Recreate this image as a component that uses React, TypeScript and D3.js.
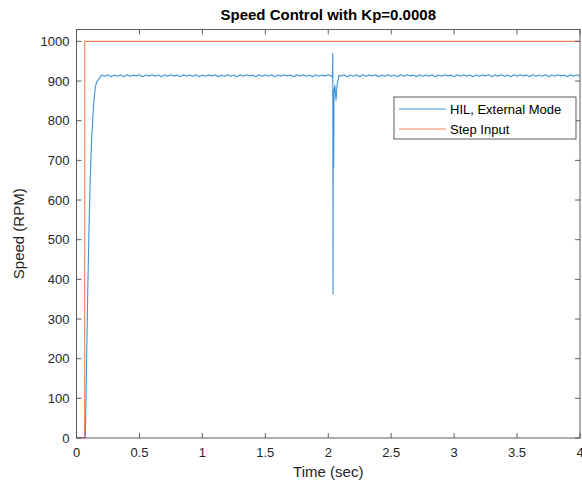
import React from "react";
import * as d3 from "d3";

const xTicks = [0, 0.5, 1, 1.5, 2, 2.5, 3, 3.5, 4];
const yTicks = [0, 100, 200, 300, 400, 500, 600, 700, 800, 900, 1000];

const stepT = [0, 0.065, 0.065, 4.0];
const stepV = [0, 0, 1000, 1000];

const riseT = [0, 0.07, 0.08, 0.09, 0.1, 0.11, 0.12, 0.13, 0.14, 0.15, 0.16, 0.18, 0.2];
const riseV = [0, 0, 190, 380, 540, 660, 750, 810, 855, 885, 898, 906, 915];

const rippleDt = 0.025;
const ripple1Start = 0.225;
const ripple1V = [912, 916, 911, 915, 912, 915, 911, 916, 912, 915, 913, 916, 911, 915, 912, 916, 912, 915, 911, 916, 912, 916, 913, 915, 911, 916, 912, 915, 912, 916, 911, 915, 912, 915, 913, 916, 911, 915, 912, 916, 912, 915, 911, 916, 912, 916, 913, 915, 911, 916, 912, 915, 912, 916, 911, 915, 912, 916, 913, 915, 911, 916, 912, 916, 912, 915, 911, 916, 912, 915, 913, 916];

const distT = [2.028, 2.033, 2.036, 2.038, 2.040, 2.043, 2.046, 2.052, 2.062, 2.070, 2.085];
const distV = [912, 908, 970, 363, 880, 683, 870, 890, 852, 890, 915];

const ripple2Start = 2.1;
const ripple2V = [912, 916, 911, 915, 912, 916, 911, 916, 912, 915, 913, 916, 911, 915, 912, 916, 912, 915, 911, 916, 912, 916, 913, 915, 911, 916, 912, 915, 912, 916, 911, 915, 912, 916, 913, 915, 911, 916, 912, 916, 912, 915, 911, 916, 912, 915, 913, 916, 911, 915, 912, 916, 912, 915, 911, 916, 912, 916, 913, 915, 911, 916, 912, 915, 912, 916, 911, 915, 912, 916, 913, 915, 911, 916, 912, 916, 912, 915];

const legendItems = ["HIL, External Mode", "Step Input"];
const colors = ["#3d93d6", "#ee8258"];

export default function App() {
  const W = 582, H = 487;
  const left = 76.5, right = 580, top = 29.5, bottom = 438;
  const x = d3.scaleLinear().domain([0, 4]).range([left, right]);
  const y = d3.scaleLinear().domain([0, 1030]).range([bottom, top]);

  const hil: [number, number][] = [];
  riseT.forEach((t, i) => hil.push([t, riseV[i]]));
  ripple1V.forEach((v, i) => hil.push([ripple1Start + i * rippleDt, v]));
  distT.forEach((t, i) => hil.push([t, distV[i]]));
  ripple2V.forEach((v, i) => hil.push([ripple2Start + i * rippleDt, v]));
  const step: [number, number][] = stepT.map((t, i) => [t, stepV[i]]);

  const line = d3.line<[number, number]>().x(d => x(d[0])).y(d => y(d[1]));
  const font = "'Liberation Sans', Arial, Helvetica, sans-serif";
  const axisColor = "#4d4d4d";
  const textColor = "#262626";

  return (
    <svg width={W} height={H} style={{ position: "absolute", left: 0, top: 0, background: "#fff" }}>
      <defs>
        <clipPath id="clip">
          <rect x={left} y={top} width={right - left} height={bottom - top} />
        </clipPath>
      </defs>
      <rect x={0} y={0} width={W} height={H} fill="#fff" />
      <g clipPath="url(#clip)">
        <path d={line(step) || ""} fill="none" stroke={colors[1]} strokeWidth={1.1} />
        <path d={line(hil) || ""} fill="none" stroke={colors[0]} strokeWidth={1.1} strokeLinejoin="round" />
      </g>
      <rect x={left} y={top} width={right - left} height={bottom - top} fill="none" stroke={axisColor} strokeWidth={0.9} />
      {xTicks.map(t => (
        <g key={"x" + t}>
          <line x1={x(t)} x2={x(t)} y1={bottom} y2={bottom - 5} stroke={axisColor} strokeWidth={0.9} />
          <line x1={x(t)} x2={x(t)} y1={top} y2={top + 5} stroke={axisColor} strokeWidth={0.9} />
          <text x={x(t)} y={bottom + 19} textAnchor="middle" fontFamily={font} fontSize={13} fill={textColor}>{t}</text>
        </g>
      ))}
      {yTicks.map(t => (
        <g key={"y" + t}>
          <line x1={left} x2={left + 5} y1={y(t)} y2={y(t)} stroke={axisColor} strokeWidth={0.9} />
          <line x1={right} x2={right - 5} y1={y(t)} y2={y(t)} stroke={axisColor} strokeWidth={0.9} />
          <text x={left - 7} y={y(t) + 4.5} textAnchor="end" fontFamily={font} fontSize={13} fill={textColor}>{t}</text>
        </g>
      ))}
      <text x={(left + right) / 2} y={477} textAnchor="middle" fontFamily={font} fontSize={15} fill={textColor}>Time (sec)</text>
      <text transform={`translate(24,${(top + bottom) / 2}) rotate(-90)`} textAnchor="middle" fontFamily={font} fontSize={15} fill={textColor}>Speed (RPM)</text>
      <text x={(left + right) / 2} y={20} textAnchor="middle" fontFamily={font} fontSize={15} fontWeight="bold" fill="#000">Speed Control with Kp=0.0008</text>
      <rect x={394} y={97} width={182} height={42} fill="#fff" stroke="#333" strokeWidth={0.8} />
      {legendItems.map((name, i) => (
        <g key={name}>
          <line x1={399} x2={446} y1={109 + i * 20} y2={109 + i * 20} stroke={colors[i]} strokeWidth={1.1} />
          <text x={450} y={113.5 + i * 20} fontFamily={font} fontSize={13} fill="#000">{name}</text>
        </g>
      ))}
    </svg>
  );
}
